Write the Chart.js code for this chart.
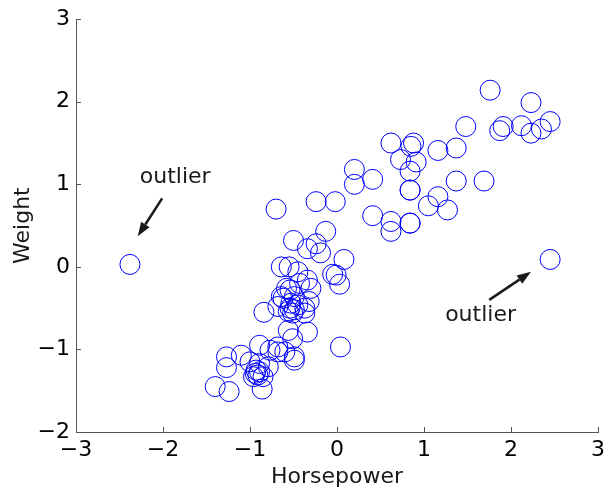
<!DOCTYPE html>
<html>
<head>
<meta charset="utf-8">
<script src="https://cdn.jsdelivr.net/npm/chart.js@4.4.1/dist/chart.umd.min.js"></script>
<style>
  body { margin: 0; background: #fff; }
  #wrap { width: 610px; height: 490px; }
</style>
</head>
<body>
<div id="wrap"><canvas id="scatter" width="610" height="490"></canvas></div>
<script>
// standardized values
const horsepower = [
  -2.38, 2.45,
  1.76, 2.23, 2.45, 2.35, 2.23, 2.12, 1.91, 1.87, 1.48,
  0.62, 0.88, 0.85, 0.73, 0.91, 0.84, 1.16, 1.37,
  0.20, 0.20, 0.41, 0.84, 0.84, 1.37, 1.69, 1.16, 1.05, 1.27,
  0.41, 0.62, 0.62, 0.84, 0.84,
  -0.70, -0.24, -0.02, -0.13, -0.50, -0.34, -0.24, -0.19, 0.08,
  -0.64, -0.55, -0.45, -0.05, -0.01, 0.03, -0.34, -0.30, -0.43, -0.54, -0.64, -0.49, -0.32,
  -0.84, -0.68, -0.54, -0.45, -0.37, -0.51, -0.58, -0.62, -0.53, -0.56, -0.49, -0.37,
  -0.34, -0.56, -0.51, 0.04, -0.68, -0.77, -0.89, -0.68, -0.60, -0.49, -0.49,
  -1.10, -1.27, -1.27, -1.00, -0.89, -0.79, -0.93, -0.94, -0.91, -0.89, -0.96, -0.85, -0.86, -1.40, -1.24
];
const weight = [
  0.03, 0.09,
  2.14, 1.99, 1.76, 1.67, 1.62, 1.71, 1.70, 1.65, 1.70,
  1.50, 1.50, 1.46, 1.30, 1.27, 1.16, 1.41, 1.44,
  1.18, 1.00, 1.06, 0.93, 0.93, 1.04, 1.04, 0.85, 0.74, 0.69,
  0.62, 0.55, 0.43, 0.53, 0.53,
  0.70, 0.79, 0.79, 0.43, 0.32, 0.22, 0.28, 0.17, 0.09,
  0.00, 0.00, -0.06, -0.09, -0.10, -0.21, -0.16, -0.26, -0.20, -0.28, -0.36, -0.36, -0.42,
  -0.55, -0.48, -0.50, -0.46, -0.50, -0.56, -0.26, -0.38, -0.44, -0.54, -0.52, -0.56,
  -0.79, -0.77, -0.87, -0.97, -0.97, -1.01, -0.95, -1.03, -1.03, -1.09, -1.13,
  -1.07, -1.09, -1.22, -1.15, -1.17, -1.21, -1.25, -1.29, -1.31, -1.27, -1.33, -1.33, -1.48, -1.45, -1.51
];
const xTicks = [-3, -2, -1, 0, 1, 2, 3];
const yTicks = [-2, -1, 0, 1, 2, 3];

// text label + arrow (tail -> head), in data units
const notes = [
  { text: 'outlier', at: [-1.86, 1.08], tail: [-2.01, 0.83], head: [-2.29, 0.37] },
  { text: 'outlier', at: [1.65, -0.59], tail: [1.75, -0.40], head: [2.23, -0.06] }
];

const FONT = "'DejaVu Sans', sans-serif";
const AXIS = '#555';
const points = horsepower.map((h, i) => ({ x: h, y: weight[i] }));
const minus = v => (v < 0 ? '\u2212' + Math.abs(v) : String(v));

// inward tick marks, matlab style
const innerTicks = {
  id: 'innerTicks',
  afterDraw(chart) {
    const { ctx, chartArea: a, scales: { x, y } } = chart;
    ctx.save();
    ctx.strokeStyle = AXIS;
    ctx.lineWidth = 1;
    ctx.beginPath();
    xTicks.forEach(v => {
      const px = Math.round(x.getPixelForValue(v)) + 0.5;
      ctx.moveTo(px, a.bottom);
      ctx.lineTo(px, a.bottom - 5);
    });
    yTicks.forEach(v => {
      const py = Math.round(y.getPixelForValue(v)) + 0.5;
      ctx.moveTo(a.left, py);
      ctx.lineTo(a.left + 5, py);
    });
    ctx.stroke();
    ctx.restore();
  }
};

const annotations = {
  id: 'annotations',
  afterDatasetsDraw(chart) {
    const { ctx, scales: { x, y } } = chart;
    ctx.save();
    notes.forEach(n => {
      ctx.fillStyle = '#1a1a1a';
      ctx.font = '22px ' + FONT;
      ctx.textAlign = 'center';
      ctx.textBaseline = 'middle';
      ctx.fillText(n.text, x.getPixelForValue(n.at[0]), y.getPixelForValue(n.at[1]));

      const x0 = x.getPixelForValue(n.tail[0]), y0 = y.getPixelForValue(n.tail[1]);
      const x1 = x.getPixelForValue(n.head[0]), y1 = y.getPixelForValue(n.head[1]);
      const ang = Math.atan2(y1 - y0, x1 - x0);
      const len = 14, half = 5;
      const bx = x1 - len * Math.cos(ang), by = y1 - len * Math.sin(ang);
      ctx.strokeStyle = '#1a1a1a';
      ctx.lineWidth = 2.5;
      ctx.beginPath();
      ctx.moveTo(x0, y0);
      ctx.lineTo(bx, by);
      ctx.stroke();
      ctx.beginPath();
      ctx.moveTo(x1, y1);
      ctx.lineTo(bx + half * Math.sin(ang), by - half * Math.cos(ang));
      ctx.lineTo(bx - half * Math.sin(ang), by + half * Math.cos(ang));
      ctx.closePath();
      ctx.fill();
    });
    ctx.restore();
  }
};

new Chart(document.getElementById('scatter'), {
  type: 'scatter',
  data: {
    datasets: [{
      data: points,
      pointStyle: 'circle',
      pointRadius: 10,
      pointBorderWidth: 1,
      borderColor: '#0000ff',
      backgroundColor: 'rgba(0,0,0,0)'
    }]
  },
  options: {
    responsive: false,
    animation: false,
    layout: { padding: { top: 19, right: 7, bottom: 0, left: 0 } },
    plugins: { legend: { display: false }, tooltip: { enabled: false } },
    scales: {
      x: {
        type: 'linear',
        min: -3, max: 3,
        afterBuildTicks: s => { s.ticks = xTicks.map(v => ({ value: v })); },
        afterFit: s => { s.height = 58; },
        grid: { display: false, drawTicks: false },
        border: { display: true, color: AXIS, width: 1 },
        ticks: { padding: 5, color: '#000', font: { family: FONT, size: 22 }, callback: minus, maxRotation: 0 },
        title: { display: true, text: 'Horsepower', color: '#1a1a1a', font: { family: FONT, size: 22 }, padding: 0 }
      },
      y: {
        type: 'linear',
        min: -2, max: 3,
        afterBuildTicks: s => { s.ticks = yTicks.map(v => ({ value: v })); },
        afterFit: s => { s.width = 76; },
        grid: { display: false, drawTicks: false },
        border: { display: true, color: AXIS, width: 1 },
        ticks: { padding: 6, color: '#000', font: { family: FONT, size: 22 }, callback: minus },
        title: { display: true, text: 'Weight', color: '#1a1a1a', font: { family: FONT, size: 22 }, padding: { top: 10, bottom: 0 } }
      }
    }
  },
  plugins: [innerTicks, annotations]
});
</script>
</body>
</html>
